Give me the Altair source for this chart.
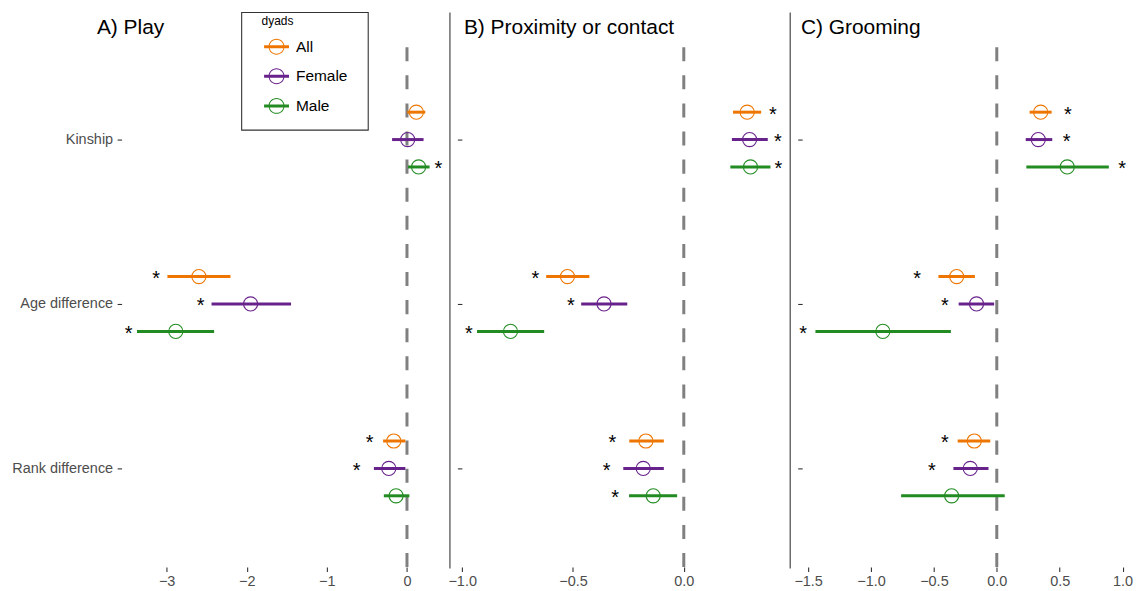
import altair as alt
import pandas as pd

FONT = "Liberation Sans"

categories = ["Kinship", "Age difference", "Rank difference"]
dyads = ["All", "Female", "Male"]
dyad_colors = ["#EE7600", "#68228B", "#228B22"]
panel_titles = ["A) Play", "B) Proximity or contact", "C) Grooming"]
legend_title = "dyads"

# order: Kinship(All, Female, Male), Age difference(...), Rank difference(...)
play_est = [0.117, 0.009, 0.145, -2.597, -1.952, -2.886, -0.165, -0.227, -0.136]
play_lo = [0.003, -0.186, 0.012, -2.990, -2.439, -3.370, -0.298, -0.413, -0.289]
play_hi = [0.228, 0.207, 0.282, -2.203, -1.447, -2.407, -0.020, -0.020, 0.030]
play_star = [None, None, 0.393, -3.130, -2.576, -3.474, -0.467, -0.628, None]

prox_est = [0.286, 0.297, 0.301, -0.525, -0.360, -0.782, -0.171, -0.183, -0.138]
prox_lo = [0.222, 0.217, 0.210, -0.621, -0.463, -0.933, -0.246, -0.273, -0.247]
prox_hi = [0.349, 0.379, 0.391, -0.426, -0.255, -0.630, -0.090, -0.090, -0.030]
prox_star = [0.402, 0.424, 0.427, -0.670, -0.510, -0.970, -0.322, -0.348, -0.310]

groom_est = [0.349, 0.330, 0.560, -0.319, -0.161, -0.906, -0.179, -0.211, -0.359]
groom_lo = [0.261, 0.230, 0.235, -0.464, -0.303, -1.442, -0.311, -0.345, -0.761]
groom_hi = [0.436, 0.441, 0.891, -0.174, -0.021, -0.365, -0.052, -0.066, 0.063]
groom_star = [0.566, 0.555, 0.996, -0.634, -0.412, -1.540, -0.412, -0.517, None]

play_ticks = [-3, -2, -1, 0]
prox_ticks = [-1.0, -0.5, 0.0]
groom_ticks = [-1.5, -1.0, -0.5, 0.0, 0.5, 1.0]

H = 528
LEGEND_PATH = (
    "M-1,-0.12 L1,-0.12 L1,0.12 L-1,0.12 Z "
    "M-0.64,0 A0.64,0.64 0 0,1 0.64,0 A0.64,0.64 0 0,1 -0.64,0 Z "
    "M-0.56,0 A0.56,0.56 0 0,0 0.56,0 A0.56,0.56 0 0,0 -0.56,0 Z"
)


def make_df(est, lo, hi, star):
    rows = []
    for i, cat in enumerate(categories):
        for j, d in enumerate(dyads):
            k = i * 3 + j
            rows.append(dict(category=cat, cat_idx=i + 1, dyad=d, dyad_idx=j,
                             col=dyad_colors[j],
                             est=est[k], lo=lo[k], hi=hi[k], star=star[k]))
    return pd.DataFrame(rows)


color_scale = alt.Scale(domain=dyads, range=dyad_colors)


def panel(df, title, domain, ticks, fmt, width, first, title_dx):
    xs = alt.Scale(domain=domain, nice=False, zero=False)
    ys = alt.Scale(domain=[0.4, 3.6], reverse=True, nice=False, zero=False)
    xaxis = alt.Axis(values=ticks, title=None, grid=False, domain=False, tickSize=4.5,
                     tickColor="#333333", tickWidth=1.1, labelFontSize=14.5,
                     labelColor="#4D4D4D", labelPadding=3, labelFont=FONT, format=fmt,
                     labelFlush=False)
    if first:
        label_expr = " : ".join(
            [f"datum.value == {i + 1} ? '{c}'" for i, c in enumerate(categories[:-1])]
        ) + f" : '{categories[-1]}'"
        yaxis = alt.Axis(values=[1, 2, 3], title=None, grid=False, domain=False,
                         tickSize=4.5, tickColor="#333333", tickWidth=1.1,
                         labelFontSize=14.5, labelColor="#4D4D4D", labelPadding=4.5,
                         labelFont=FONT, labelExpr=label_expr)
    else:
        yaxis = alt.Axis(values=[1, 2, 3], title=None, grid=False, domain=False,
                         labels=False, tickSize=4.5, tickColor="#333333", tickWidth=1.1)

    base = alt.Chart(df).transform_calculate(
        ypos="datum.cat_idx + (datum.dyad_idx - 1) / 6"
    )
    zero_df = pd.DataFrame({"zero": [0.0]})
    dashed = alt.Chart(zero_df).mark_rule(
        strokeDash=[14.1, 14.1], strokeWidth=3, color="#808080"
    ).encode(
        x=alt.X("zero:Q", scale=xs, axis=xaxis),
        y=alt.value(H), y2=alt.value(0),
    )
    ci = base.mark_rule(strokeWidth=3).encode(
        x=alt.X("lo:Q", scale=xs, axis=xaxis),
        x2="hi:Q",
        y=alt.Y("ypos:Q", scale=ys, axis=yaxis),
        stroke=alt.Stroke("col:N", scale=None),
    )
    pts = base.mark_point(shape="circle", filled=False, size=201, strokeWidth=1.1,
                          opacity=1).encode(
        x=alt.X("est:Q", scale=xs),
        y=alt.Y("ypos:Q", scale=ys),
        stroke=alt.Stroke("col:N", scale=None),
    )
    stars = base.transform_filter("isValid(datum.star)").mark_text(
        text="*", fontSize=20, dy=8.5, baseline="alphabetic", align="center",
        font=FONT, color="black"
    ).encode(
        x=alt.X("star:Q", scale=xs),
        y=alt.Y("ypos:Q", scale=ys),
    )
    one = pd.DataFrame({"t": [title]})
    ttl = alt.Chart(one).mark_text(
        align="left", baseline="alphabetic", fontSize=21, font=FONT, color="black"
    ).encode(x=alt.value(title_dx), y=alt.value(-6.8), text="t:N")

    layers = [dashed, ci, pts, stars, ttl]
    if first:
        box = alt.Chart(one).mark_rect(fillOpacity=0, stroke="#333333", strokeWidth=1.1).encode(
            x=alt.value(120.5), x2=alt.value(247.5), y=alt.value(-28.5), y2=alt.value(89.5)
        )
        ltitle = alt.Chart(pd.DataFrame({"t": [legend_title]})).mark_text(
            align="left", baseline="alphabetic", fontSize=12, font=FONT, color="black"
        ).encode(x=alt.value(140.5), y=alt.value(-16.2), text="t:N")
        leg = base.mark_point(shape=LEGEND_PATH, filled=True, size=625, strokeWidth=0,
                              opacity=1, clip=True).encode(
            x=alt.X("est:Q", scale=xs),
            y=alt.value(-1000),
            fill=alt.Fill("dyad:N", scale=color_scale, legend=alt.Legend(
                orient="none", legendX=140, legendY=-6.7, title=None,
                labelFontSize=15.5,
                labelFont=FONT, labelColor="black", labelOffset=7, rowPadding=8.7,
                padding=0, symbolOffset=3, symbolSize=625, symbolStrokeWidth=0,
                symbolType=LEGEND_PATH, symbolOpacity=1,
            )),
        )
        layers = [box] + layers + [ltitle, leg]
    else:
        sep = alt.Chart(one).mark_rule(color="#555555", strokeWidth=1.3).encode(
            x=alt.value(-12), y=alt.value(-28.5), y2=alt.value(H + 1.5)
        )
        layers = layers + [sep]
    return alt.layer(*layers).properties(width=width, height=H)


pa = panel(make_df(play_est, play_lo, play_hi, play_star), panel_titles[0],
           [-3.562, 0.505], play_ticks, "d", 327, True, -24.8)
pb = panel(make_df(prox_est, prox_lo, prox_hi, prox_star), panel_titles[1],
           [-1.0013, 0.469], prox_ticks, ".1f", 327, False, 2)
pc = panel(make_df(groom_est, groom_lo, groom_hi, groom_star), panel_titles[2],
           [-1.5475, 1.0673], groom_ticks, ".1f", 330, False, -1.3)

chart = alt.hconcat(pa, pb, pc, spacing=14.5, bounds="flush").properties(
    padding={"left": 3, "top": 2, "right": 0, "bottom": 0}
).configure(background="white").configure_view(stroke=None)

chart.save("out.html", embed_options={"renderer": "svg", "actions": False})
